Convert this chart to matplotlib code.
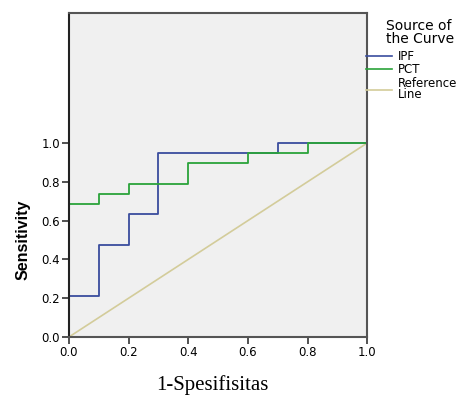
import matplotlib.pyplot as plt
from matplotlib.lines import Line2D

# ROC step curves (1 - specificity, sensitivity)
ipf_x = [0.0, 0.0, 0.1, 0.1, 0.2, 0.2, 0.3, 0.3, 0.7, 0.7, 1.0]
ipf_y = [0.0, 0.211, 0.211, 0.474, 0.474, 0.632, 0.632, 0.947, 0.947, 1.0, 1.0]
pct_x = [0.0, 0.0, 0.1, 0.1, 0.2, 0.2, 0.4, 0.4, 0.6, 0.6, 0.8, 0.8, 1.0]
pct_y = [0.0, 0.684, 0.684, 0.737, 0.737, 0.789, 0.789, 0.895, 0.895, 0.947, 0.947, 1.0, 1.0]
ref_x = [0.0, 1.0]
ref_y = [0.0, 1.0]
ticks = [0.0, 0.2, 0.4, 0.6, 0.8, 1.0]

blue = '#3a4d9e'
green = '#2aa33a'
tan = '#d3cc9a'

fig = plt.figure(figsize=(4.69, 4.0), dpi=100)
ax = fig.add_axes([0.147, 0.1575, 0.636, 0.81])
ax.set_facecolor('#f0f0f0')

ax.plot(ref_x, ref_y, color=tan, lw=1.2)
ax.plot(ipf_x, ipf_y, color=blue, lw=1.3)
ax.plot(pct_x, pct_y, color=green, lw=1.3)

ax.set_xlim(0, 1.0)
ax.set_ylim(0, 1.67)
ax.set_xticks(ticks)
ax.set_yticks(ticks)
ax.set_xticklabels([f'{t:.1f}' for t in ticks])
ax.set_yticklabels([f'{t:.1f}' for t in ticks])
ax.tick_params(length=5, width=1.2, color='#333333', labelsize=8.5, pad=1.5)
for s in ax.spines.values():
    s.set_color('#555555')
    s.set_linewidth(1.5)
ax.spines['left'].set_color('#222222')

ax.set_ylabel('Sensitivity', fontsize=11.5, fontweight='bold', family='Liberation Sans')
ax.yaxis.set_label_coords(-0.13, 0.5 / 1.67)
fig.text(0.452, 0.037, '1-Spesifisitas', fontsize=15, family='Liberation Serif', ha='center', va='center')

# legend
handles = [Line2D([], [], color=blue, lw=1.2), Line2D([], [], color=green, lw=1.2),
           Line2D([], [], color=tan, lw=1.2)]
labels = ['IPF', 'PCT', 'Reference\nLine']
leg = ax.legend(handles, labels, loc='upper left', bbox_to_anchor=(0.995, 0.885), frameon=False,
                fontsize=8.5, handlelength=2.2, handletextpad=0.55, labelspacing=0.02,
                borderpad=0, borderaxespad=0)
for t in leg.get_texts():
    t.set_linespacing(0.8)
fig.text(0.822, 0.953, 'Source of\nthe Curve', fontsize=10, va='top', ha='left', linespacing=0.9)

fig.savefig('out.png', dpi=100)
